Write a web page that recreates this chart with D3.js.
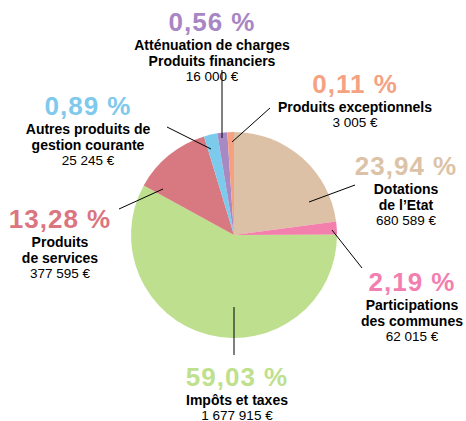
<!DOCTYPE html>
<html><head><meta charset="utf-8">
<script src="https://cdn.jsdelivr.net/npm/d3@7"></script>
<style>
html,body{margin:0;padding:0;background:#fff;}
svg{display:block;font-family:"Liberation Sans",Arial,Helvetica,sans-serif;}
</style></head>
<body>
<svg id="chart" width="466" height="421"></svg>
<script>
// ---- data (clockwise from 12 o'clock) ----
const categories = [
  ["Dotations", "de l\u2019Etat"],
  ["Participations", "des communes"],
  ["Imp\u00f4ts et taxes"],
  ["Produits", "de services"],
  ["Autres produits de", "gestion courante"],
  ["Att\u00e9nuation de charges", "Produits financiers"],
  ["Produits exceptionnels"]
];
const amounts = ["680 589 \u20ac", "62 015 \u20ac", "1 677 915 \u20ac", "377 595 \u20ac", "25 245 \u20ac", "16 000 \u20ac", "3 005 \u20ac"];
const percentLabels = ["23,94 %", "2,19 %", "59,03 %", "13,28 %", "0,89 %", "0,56 %", "0,11 %"];
// slice sizes as drawn in the picture (small slices are drawn enlarged)
const sliceShares = [22.9, 2.06, 58.0, 12.3, 2.1, 1.56, 1.04];
const sliceColors = ["#dcc1a6", "#f37fac", "#bddf8e", "#d87880", "#7ccbec", "#a78ac3", "#f7a07f"];
const textColors  = ["#dcc3a8", "#f27fb0", "#bfe08c", "#db7580", "#7ec9ec", "#a886c4", "#f5a283"];

// ---- layout (label anchors and leader lines) ----
const cx = 234, cy = 235, R = 103;
const labelPos = [
  {x: 406, y: 175, line: [[309, 202], [355, 185]]},
  {x: 412, y: 291, line: [[332, 230], [362, 268]]},
  {x: 237, y: 386, line: [[234, 307], [234, 355]]},
  {x: 60,  y: 228, line: [[163, 189], [119, 209]]},
  {x: 88,  y: 115, line: [[211, 149], [167, 127]]},
  {x: 212, y: 31,  line: [[222, 138], [222, 70]]},
  {x: 355, y: 93,  line: [[232, 142], [270, 108]]}
];

const svg = d3.select("#chart");
const pie = d3.pie().sort(null).value(d => d);
const arc = d3.arc().innerRadius(0).outerRadius(R);
const g = svg.append("g").attr("transform", `translate(${cx},${cy})`);
g.selectAll("path").data(pie(sliceShares)).join("path")
  .attr("d", arc).attr("fill", (d, i) => sliceColors[i]);

// leader lines
svg.selectAll("line.lead").data(labelPos).join("line").attr("class", "lead")
  .attr("x1", d => d.line[0][0]).attr("y1", d => d.line[0][1])
  .attr("x2", d => d.line[1][0]).attr("y2", d => d.line[1][1])
  .attr("stroke", "#000").attr("stroke-width", 1);

// labels
labelPos.forEach((p, i) => {
  const t = svg.append("g");
  t.append("text").attr("x", p.x).attr("y", p.y).attr("text-anchor", "middle")
    .attr("font-size", 26).attr("font-weight", "bold").attr("fill", textColors[i])
    .attr("letter-spacing", 1).text(percentLabels[i]);
  let y = p.y + 18.5;
  categories[i].forEach(line => {
    t.append("text").attr("x", p.x).attr("y", y).attr("text-anchor", "middle")
      .attr("font-size", 14).attr("font-weight", "bold").attr("fill", "#000").text(line);
    y += 16.5;
  });
  t.append("text").attr("x", p.x).attr("y", y - 1.5).attr("text-anchor", "middle")
    .attr("font-size", 13.5).attr("fill", "#000").text(amounts[i]);
});
</script>
</body></html>
